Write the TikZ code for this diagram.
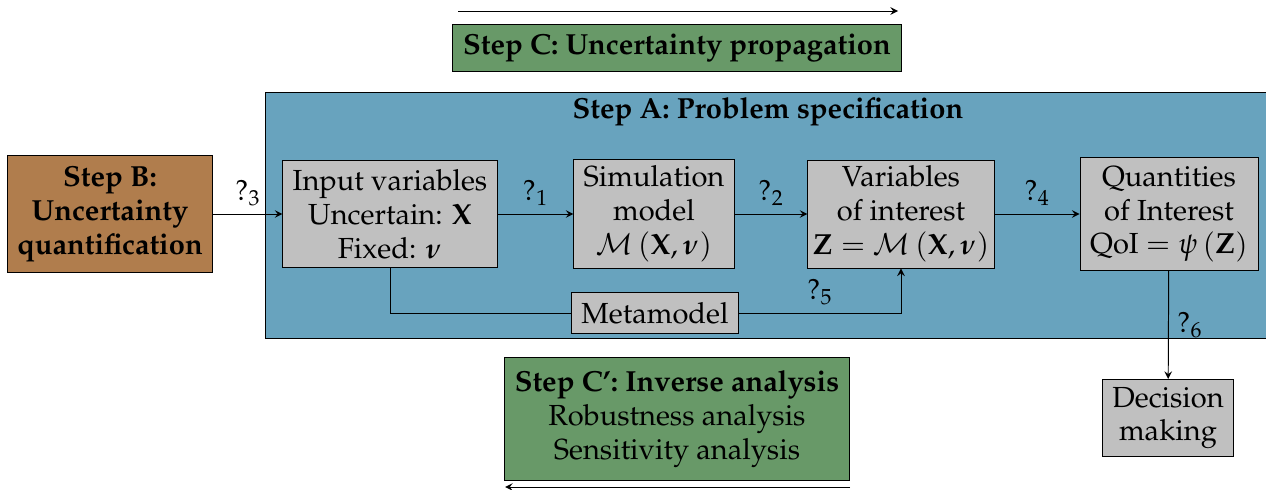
\documentclass[tikz,border=0pt]{standalone}
\usepackage[T1]{fontenc}
\usepackage{mathpazo}
\usepackage{amsmath,amssymb}
\usetikzlibrary{arrows}
\definecolor{stepAblue}{RGB}{104,163,190}
\definecolor{stepBbrown}{RGB}{176,125,77}
\definecolor{stepCgreen}{RGB}{104,153,104}
\definecolor{boxgray}{RGB}{192,192,192}
\begin{document}
\begin{tikzpicture}[x=0.413pt,y=-0.413pt,>=stealth,
	greybox/.style={shape=rectangle,draw=black,fill=boxgray,align=center,inner sep=2pt,font=\large},
	stepbox/.style={shape=rectangle,draw=black,align=center,inner sep=2pt,font=\large\bfseries},
	lbl/.style={font=\large}]
	\useasboundingbox (0,0) rectangle (1266,490);
	% step A frame
	\draw[fill=stepAblue] (265,92) rectangle (1266,338);
	\node[stepbox,draw=none] (stepA) at (768,112) {Step A: Problem specification};
	% steps B, C, C'
	\node[stepbox,fill=stepBbrown,minimum width=85pt,minimum height=48.7pt] (stepB) at (110,214) {Step B:\\ Uncertainty\\ quantification};
	\node[stepbox,fill=stepCgreen,minimum width=185.4pt,minimum height=19.4pt] (stepC) at (677,48) {Step C: Uncertainty propagation};
	\node[greybox,fill=stepCgreen,minimum width=142.5pt,minimum height=50.4pt] (stepCp) at (677,419) {\textbf{Step C': Inverse analysis}\\ Robustness analysis\\ Sensitivity analysis};
	% blocks
	\node[greybox,minimum width=88.4pt,minimum height=44.2pt] (input) at (390,214) {Input variables\\ Uncertain: $\mathbf{X}$\\ Fixed: $\boldsymbol{\nu}$};
	\node[greybox,minimum width=66.1pt,minimum height=45pt] (sim) at (654,214) {Simulation\\ model\\ $\mathcal{M}\left(\mathbf{X},\boldsymbol{\nu}\right)$};
	\node[greybox,minimum width=76.8pt,minimum height=44.6pt] (voi) at (901,214) {Variables\\ of interest\\ $\mathbf{Z}=\mathcal{M}\left(\mathbf{X},\boldsymbol{\nu}\right)$};
	\node[greybox,minimum width=73.5pt,minimum height=46.7pt] (qoi) at (1169,214) {Quantities\\ of Interest\\ QoI $=\psi\left(\mathbf{Z}\right)$};
	\node[greybox,minimum width=68.6pt,minimum height=16.9pt] (meta) at (655,313) {Metamodel};
	\node[greybox,minimum width=54.1pt,minimum height=31.8pt] (dec) at (1168,418) {Decision\\ making};
	% direction arrows
	\coordinate (ctopL) at (458,11);
	\coordinate (ctopR) at (898,11);
	\coordinate (cbotL) at (505,487);
	\coordinate (cbotR) at (850,487);
	\draw[->] (ctopL) -- (ctopR);
	\draw[->] (cbotR) -- (cbotL);
	% links
	\path [->] (stepB) edge node[lbl,above] {$?_3$} (input);
	\path [->] (input) edge node[lbl,above] {$?_1$} (sim);
	\path [->] (sim) edge node[lbl,above] {$?_2$} (voi);
	\path [->] (voi) edge node[lbl,above] {$?_4$} (qoi);
	\draw (input.south) |- (meta.west);
	\draw[->] (meta.east) -| node[lbl,above,pos=0.25] {$?_5$} (voi.south);
	\path [->] (qoi) edge node[lbl,right] {$?_6$} (dec);
\end{tikzpicture}
\end{document}
